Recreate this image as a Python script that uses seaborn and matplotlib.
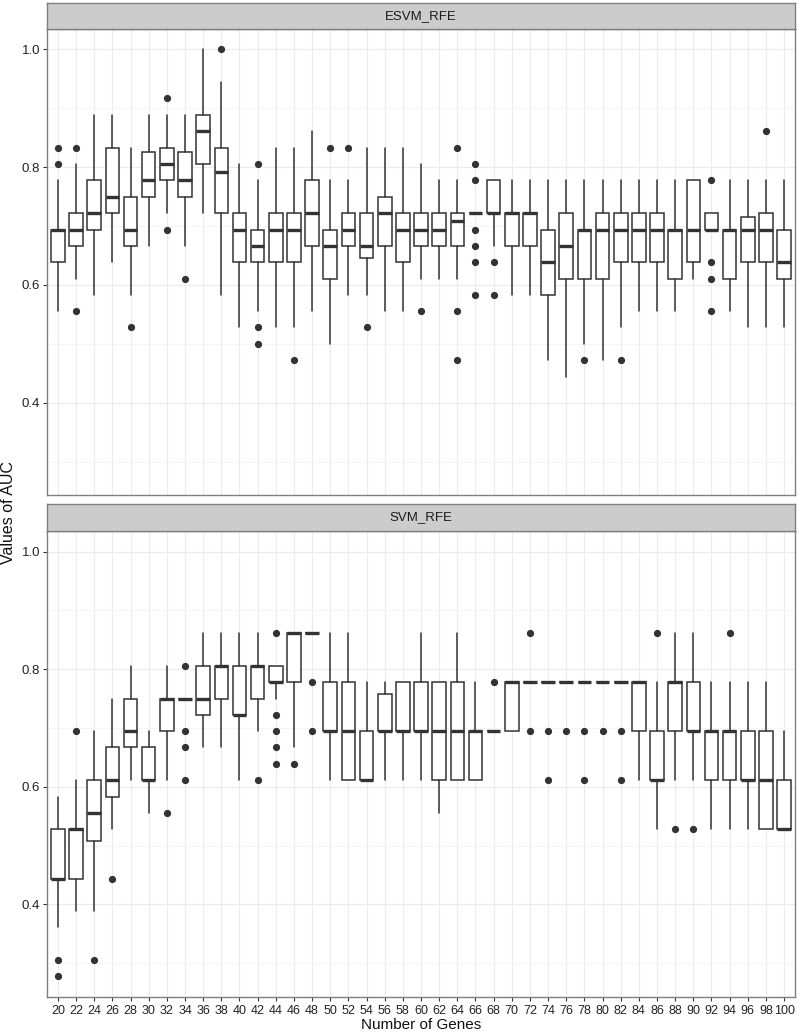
import matplotlib
matplotlib.use("Agg")
import matplotlib.pyplot as plt
import seaborn as sns

# Number of genes (x categories)
genes = [20, 22, 24, 26, 28, 30, 32, 34, 36, 38, 40, 42, 44, 46, 48, 50, 52, 54, 56, 58,
         60, 62, 64, 66, 68, 70, 72, 74, 76, 78, 80, 82, 84, 86, 88, 90, 92, 94, 96, 98, 100]

# ESVM_RFE box summaries
esvm_lo = [.556, .611, .583, .639, .583, .667, .722, .667, .722, .583, .528, .556, .528, .528,
           .556, .5, .583, .583, .556, .556, .611, .611, .611, .722, .667, .583, .583, .472,
           .444, .5, .472, .528, .556, .556, .556, .611, .694, .556, .528, .528, .528]
esvm_q1 = [.639, .667, .694, .722, .667, .75, .778, .75, .806, .722, .639, .639, .639, .639,
           .667, .611, .667, .646, .667, .639, .667, .667, .667, .722, .722, .667, .667, .583,
           .611, .611, .611, .639, .639, .639, .611, .639, .694, .611, .639, .639, .611]
esvm_med = [.694, .694, .722, .75, .694, .778, .806, .778, .861, .792, .694, .667, .694, .694,
            .722, .667, .694, .667, .722, .694, .694, .694, .708, .722, .722, .722, .722, .639,
            .667, .694, .694, .694, .694, .694, .694, .694, .694, .694, .694, .694, .639]
esvm_q3 = [.694, .722, .778, .833, .75, .826, .833, .826, .889, .833, .722, .694, .722, .722,
           .778, .694, .722, .722, .75, .722, .722, .722, .722, .722, .778, .722, .722, .694,
           .722, .694, .722, .722, .722, .722, .694, .778, .722, .694, .715, .722, .694]
esvm_hi = [.778, .806, .889, .889, .833, .889, .889, .889, 1.0, .944, .806, .778, .833, .833,
           .861, .778, .778, .833, .833, .833, .806, .778, .778, .722, .778, .778, .778, .778,
           .778, .778, .778, .778, .778, .778, .778, .778, .722, .778, .778, .778, .778]
esvm_out = [[.806, .833], [.833, .556], [], [], [.528], [], [.917, .694], [.611], [], [1.0],
            [], [.806, .528, .5], [], [.472], [], [.833], [.833], [.528], [], [], [.556], [],
            [.833, .556, .472], [.806, .778, .694, .667, .639, .583], [.639, .583], [], [], [],
            [], [.472], [], [.472], [], [], [], [], [.778, .639, .611, .556], [], [], [.861], []]

# SVM_RFE box summaries
svm_lo = [.361, .389, .389, .528, .611, .556, .611, .75, .667, .667, .611, .694, .75, .667,
          .861, .611, .611, .611, .611, .611, .611, .556, .611, .611, .694, .694, .778, .778,
          .778, .778, .778, .778, .611, .528, .611, .611, .528, .528, .528, .528, .528]
svm_q1 = [.444, .444, .507, .583, .667, .611, .694, .75, .722, .75, .722, .75, .778, .778,
          .861, .694, .611, .611, .694, .694, .694, .611, .611, .611, .694, .694, .778, .778,
          .778, .778, .778, .778, .694, .611, .694, .694, .611, .611, .611, .528, .528]
svm_med = [.444, .528, .556, .611, .694, .611, .75, .75, .75, .806, .722, .806, .778, .861,
           .861, .694, .694, .611, .694, .694, .694, .694, .694, .694, .694, .778, .778, .778,
           .778, .778, .778, .778, .778, .611, .778, .694, .694, .694, .611, .611, .528]
svm_q3 = [.528, .528, .611, .667, .75, .667, .75, .75, .806, .806, .806, .806, .806, .861,
          .861, .778, .778, .694, .757, .778, .778, .778, .778, .694, .694, .778, .778, .778,
          .778, .778, .778, .778, .778, .694, .778, .778, .694, .694, .694, .694, .611]
svm_hi = [.583, .611, .694, .75, .806, .694, .806, .75, .861, .861, .861, .861, .806, .861,
          .861, .861, .861, .778, .778, .778, .861, .778, .861, .778, .694, .778, .778, .778,
          .778, .778, .778, .778, .778, .778, .861, .861, .778, .778, .778, .778, .694]
svm_out = [[.306, .278], [.694], [.306], [.444], [], [], [.556], [.806, .694, .667, .611], [],
           [], [], [.611], [.861, .722, .694, .667, .639], [.639], [.778, .694], [], [], [], [],
           [], [], [], [], [], [.778], [], [.861, .694], [.694, .611], [.694], [.694, .611],
           [.694], [.694, .611], [], [.861], [.528], [.528], [], [.861], [], [], []]

panels = [
    ("ESVM_RFE", esvm_lo, esvm_q1, esvm_med, esvm_q3, esvm_hi, esvm_out),
    ("SVM_RFE", svm_lo, svm_q1, svm_med, svm_q3, svm_hi, svm_out),
]

sns.set_theme(style="whitegrid")
plt.rcParams['font.family'] = ['Liberation Sans', 'DejaVu Sans']

fig = plt.figure(figsize=(7.97, 10.36), dpi=100)

ink = "#333333"
border = "#7F7F7F"

# axes rectangles: [left, bottom, width, height]
panel_rects = [[0.0590, 0.5219, 0.9385, 0.4504], [0.0590, 0.0379, 0.9385, 0.4496]]
strip_rects = [[0.0590, 0.9723, 0.9385, 0.0251], [0.0590, 0.4875, 0.9385, 0.0261]]

for i, (name, lo, q1, med, q3, hi, out) in enumerate(panels):
    ax = fig.add_axes(panel_rects[i])
    ax.set_facecolor("white")

    stats = []
    for j in range(len(genes)):
        stats.append({"med": med[j], "q1": q1[j], "q3": q3[j],
                      "whislo": lo[j], "whishi": hi[j], "fliers": out[j]})
    ax.bxp(stats, positions=list(range(len(genes))), widths=0.75, patch_artist=True,
           showcaps=False,
           boxprops=dict(facecolor="white", edgecolor=ink, linewidth=1.1),
           medianprops=dict(color=ink, linewidth=2.4, solid_capstyle="butt"),
           whiskerprops=dict(color=ink, linewidth=1.1),
           flierprops=dict(marker="o", markerfacecolor=ink, markeredgecolor=ink,
                           markersize=4.2, linestyle="none"))

    ax.set_xlim(-0.6, len(genes) - 0.4)
    ax.set_ylim(0.243, 1.035)
    ax.set_yticks([0.4, 0.6, 0.8, 1.0])
    ax.set_yticklabels(["0.4", "0.6", "0.8", "1.0"])
    ax.set_yticks([0.3, 0.5, 0.7, 0.9], minor=True)
    ax.set_xticks(list(range(len(genes))))
    ax.set_xticklabels([str(g) for g in genes])

    ax.grid(True, which="major", color="#EBEBEB", linewidth=0.8)
    ax.grid(True, which="minor", axis="y", color="#F5F5F5", linewidth=0.8)
    ax.set_axisbelow(True)
    for s in ax.spines.values():
        s.set_color(border)
        s.set_linewidth(1.0)

    ax.tick_params(axis="y", which="major", length=3, width=0.8, color=ink,
                   labelsize=9.5, labelcolor="#222222", pad=2, left=True)
    ax.tick_params(axis="y", which="minor", length=0)
    if i == 0:
        ax.tick_params(axis="x", length=0, labelbottom=False)
    else:
        ax.tick_params(axis="x", length=3, width=0.8, color=ink, labelsize=9,
                       labelcolor="#222222", pad=3, bottom=True)
    ax.set_xlabel("")
    ax.set_ylabel("")

    # facet strip
    st = fig.add_axes(strip_rects[i])
    st.set_facecolor("#CCCCCC")
    st.set_xticks([])
    st.set_yticks([])
    st.grid(False)
    for s in st.spines.values():
        s.set_color(border)
        s.set_linewidth(1.0)
    st.text(0.5, 0.5, name, ha="center", va="center", fontsize=9.5, color="#1A1A1A",
            transform=st.transAxes)

fig.text(0.0105, 0.505, "Values of AUC", rotation=90, ha="center", va="center",
         fontsize=11.5, color="#111111")
fig.text(0.528, 0.0105, "Number of Genes", ha="center", va="center",
         fontsize=11, color="#111111")

fig.savefig("out.png", dpi=100)
